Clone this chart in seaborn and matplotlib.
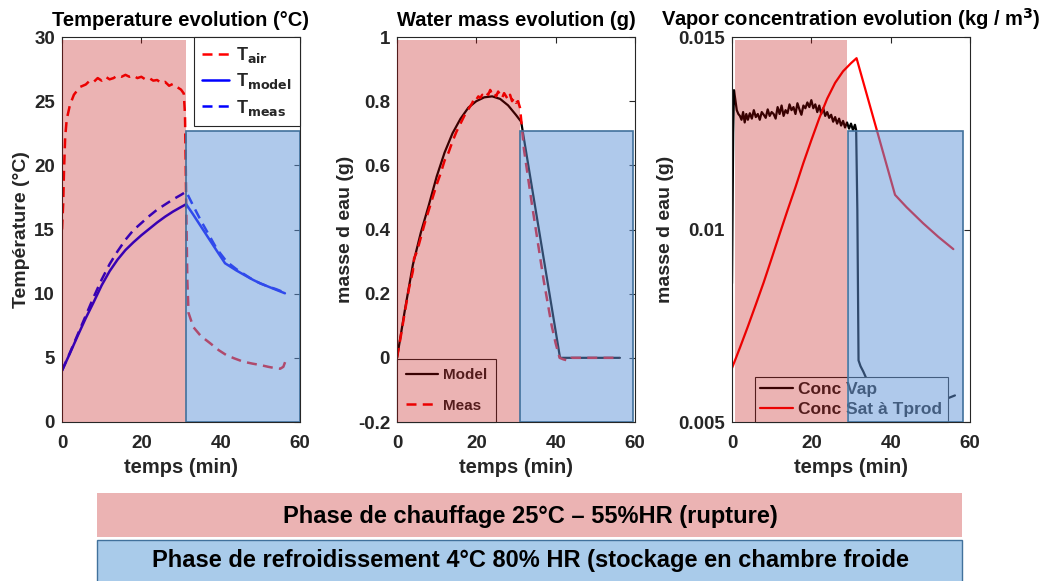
import numpy as np
import pandas as pd
import matplotlib
matplotlib.use("Agg")
import matplotlib.pyplot as plt
import seaborn as sns
from matplotlib.patches import Rectangle
from matplotlib.lines import Line2D


# ======================================================
# Data
# ======================================================
# -- Temperature panel --
t_air = [0, 0.3, 0.5, 0.8, 1.2, 2, 3, 4.5,
         6, 7, 8, 9, 10, 11, 12, 13, 14, 15, 16, 17, 18, 19, 20, 21, 22, 23, 24, 25, 26, 27, 28, 29, 30,
         30.7, 31.0, 31.2, 31.4, 31.6, 31.9,
         33.1, 35, 37.3, 39.5, 41.5, 43.5, 45.7, 48, 50, 52, 54, 55, 55.8, 56.4]
T_air = [15, 17, 19.5, 22.2, 23.6, 24.7, 25.5, 26.1,
         26.3, 26.6, 26.5, 26.8, 26.6, 26.9, 26.7, 26.8, 27.0, 26.9, 27.05, 26.9, 27.0, 26.8, 26.9, 26.7,
         26.8, 26.6, 26.65, 26.4, 26.5, 26.2, 26.35, 26.1, 25.9,
         25.6, 24.0, 20.0, 15.0, 11.0, 8.5,
         7.4, 6.7, 6.15, 5.6, 5.2, 4.95, 4.7, 4.55, 4.44, 4.3, 4.18, 4.15, 4.3, 4.8]

t_model = [0, 2, 4, 6, 8, 10, 12, 14, 16, 18, 20, 22, 24, 26, 28, 30, 31.3,
           33, 35, 37, 39, 41.1, 44, 46, 48.2, 50, 52, 54, 56.2]
T_model = [4.0, 5.35, 6.75, 8.1, 9.35, 10.65, 11.75, 12.65, 13.4, 14.0, 14.55, 15.05, 15.55, 16.0,
           16.4, 16.75, 16.97,
           16.2, 15.25, 14.3, 13.35, 12.37, 11.8, 11.45, 11.07, 10.8, 10.55, 10.3, 10.03]

t_meas = [0, 2, 4, 6, 8, 10, 12, 14, 16, 18, 20, 22, 24, 26, 28, 30, 31.3,
          33, 35, 37, 39, 41.5, 44, 46, 48, 50, 52, 54, 56]
T_meas = [4.0, 5.4, 6.85, 8.3, 9.75, 11.1, 12.3, 13.3, 14.2, 14.95, 15.5, 16.05, 16.55, 16.95,
          17.35, 17.7, 17.95,
          16.9, 15.7, 14.6, 13.5, 12.5, 11.9, 11.5, 11.1, 10.8, 10.55, 10.35, 10.1]

# -- Water mass panel --
t_mass_model = [0, 1, 2, 3, 4, 6, 8, 10, 12, 14, 16, 18, 20, 22, 24, 26, 28, 30, 31.3,
                33, 35, 37, 39, 41.1, 44, 48, 52, 56.2]
m_model = [0, 0.075, 0.15, 0.22, 0.29, 0.39, 0.475, 0.565, 0.64, 0.70, 0.745, 0.78, 0.80, 0.812,
           0.815, 0.807, 0.787, 0.757, 0.736,
           0.608, 0.458, 0.308, 0.158, 0.0, 0, 0, 0, 0]

t_mass_meas = [0, 1, 2, 3, 4, 4.3, 5, 6, 7, 8, 9, 10, 11, 12, 13, 14, 15, 16, 17, 18, 19,
               19.5, 20, 20.5, 21, 21.5, 22, 22.5, 23, 23.5, 24, 24.5, 25, 25.5, 26, 26.5, 27,
               27.5, 28, 28.5, 29, 29.5, 30, 30.5, 31,
               31.4,
               32, 33, 34, 35, 36, 37, 38, 39, 40, 41, 42, 43,
               43.6, 44, 46, 50, 54, 56.2]
m_meas = [0, 0.07, 0.145, 0.215, 0.27, 0.31, 0.33, 0.375, 0.42, 0.46, 0.50, 0.54, 0.575, 0.615,
          0.64, 0.675, 0.705, 0.73, 0.755, 0.775, 0.795,
          0.81, 0.805, 0.815, 0.81, 0.82, 0.815, 0.825, 0.82, 0.835, 0.82, 0.825, 0.815, 0.83,
          0.82, 0.81, 0.825, 0.815, 0.805, 0.82, 0.80, 0.81, 0.795, 0.80, 0.78,
          0.73,
          0.65, 0.565, 0.48, 0.40, 0.32, 0.24, 0.17, 0.10, 0.045, 0.0, -0.005, -0.008,
          -0.008, 0.0, 0, 0, 0, 0]

# -- Vapour concentration panel --
t_vap = [0, 0.3, 0.5, 0.8, 1.2, 1.6, 2.0, 2.4, 2.8, 3.2, 3.6,
         4.0, 4.5, 5.0, 5.5, 6.0, 6.5, 7.0, 7.5, 8.0, 8.5, 9.0, 9.5, 10.0, 10.5, 11.0, 11.5,
         12.0, 12.5, 13.0, 13.5, 14.0, 14.5, 15.0, 15.5, 16.0, 16.5, 17.0, 17.5, 18.0, 18.5,
         19.0, 19.5, 20.0, 20.5, 21.0, 21.5, 22.0, 22.5, 23.0, 23.5, 24.0, 24.5, 25.0, 25.5,
         26.0, 26.5, 27.0, 27.5, 28.0, 28.5, 29.0, 29.5, 30.0, 30.5, 31.0,
         31.3, 31.6, 31.9, 32.4, 33.1, 34, 36, 38, 42, 46, 50, 52, 54, 56.2]
c_vap = [0.0086, 0.0125, 0.01362, 0.0134, 0.0131, 0.01300, 0.01295, 0.01285, 0.01305, 0.01278, 0.0130,
         0.01285, 0.01302, 0.01288, 0.01310, 0.01292, 0.01300, 0.01285, 0.01305, 0.01298, 0.01290,
         0.01312, 0.01295, 0.01305, 0.01300, 0.01288, 0.01318, 0.01300, 0.01322, 0.01295, 0.01310,
         0.01302, 0.01325, 0.01310, 0.01318, 0.01300, 0.01328, 0.01312, 0.01298, 0.01322, 0.01315,
         0.01330, 0.01318, 0.01336, 0.01315, 0.01325, 0.01305, 0.01322, 0.01300, 0.01315, 0.01295,
         0.01305, 0.01290, 0.01298, 0.01280, 0.01292, 0.01275, 0.01288, 0.01270, 0.01282, 0.01265,
         0.01278, 0.01262, 0.01275, 0.01258, 0.01272,
         0.01258, 0.0105, 0.0066, 0.00645, 0.00631, 0.0061, 0.00585, 0.00572, 0.00562, 0.00557,
         0.00556, 0.00557, 0.0056, 0.00569]

t_sat = [0, 2, 4, 6, 8, 10, 12, 14, 16, 18, 20, 22, 24, 26, 28, 30, 31.4,
         41.1, 44, 48.2, 52, 55.8]
c_sat = [0.0064, 0.00693, 0.00748, 0.00805, 0.00863, 0.00925, 0.00988, 0.0105, 0.0111, 0.01173,
         0.01232, 0.01289, 0.01340, 0.01381, 0.01411, 0.01432, 0.01445,
         0.0109, 0.01058, 0.01016, 0.00981, 0.00949]

# phase rectangles per panel: (x0, x1, y0, y1) in data units
heat_zones = [(0, 31.3, 0, 29.8), (0, 31.0, -0.2, 0.99), (0.75, 29.0, 0.005, 0.01492)]
cool_zones = [(31.3, 60, 0, 22.7), (31.0, 59.5, -0.2, 0.707), (29.2, 58.2, 0.005, 0.01256)]

titles = ["Temperature evolution (°C)", "Water mass evolution (g)",
          "Vapor concentration evolution (kg / m$^3$)"]
ylabels = ["Température (°C)", "masse d eau (g)", "masse d eau (g)"]
banner_heat = "Phase de chauffage 25°C – 55%HR (rupture)"
banner_cool = "Phase de refroidissement 4°C 80% HR (stockage en chambre froide"


# ======================================================
# Style
# ======================================================
sns.set_theme(style="white")
plt.rcParams["font.family"] = ["Liberation Sans", "DejaVu Sans"]
plt.rcParams["font.weight"] = "bold"
plt.rcParams["axes.labelweight"] = "bold"
plt.rcParams["axes.titleweight"] = "bold"
plt.rcParams["mathtext.default"] = "bf"

PINK = (0.74, 0.02, 0.02)
BLUE = (0.38, 0.58, 0.85)
BLUE_EDGE = "#41719C"
AX_COL = "#262626"
DASH = (4, 2.5)

fig = plt.figure(figsize=(10.46, 5.81), dpi=100)
W, H = 1046, 581
lefts = [62, 397, 732]
axes = [fig.add_axes([l / W, 1 - 422 / H, 238 / W, 385 / H]) for l in lefts]


def style_axis(ax):
    for sp in ax.spines.values():
        sp.set_color(AX_COL)
        sp.set_linewidth(0.8)
        sp.set_visible(True)
    ax.tick_params(direction="in", length=4, width=0.8, top=True, right=True,
                   colors=AX_COL, labelsize=13.5, labelcolor=AX_COL, pad=5)
    ax.tick_params(axis="x", pad=9)
    for lab in ax.get_xticklabels() + ax.get_yticklabels():
        lab.set_fontweight("bold")
    ax.set_xlim(0, 60)
    ax.set_xticks([0, 20, 40, 60])
    ax.set_xlabel("temps (min)", fontsize=14.5, color=AX_COL, labelpad=5)


def add_zones(ax, heat, cool):
    x0, x1, y0, y1 = heat
    ax.add_patch(Rectangle((x0, y0), x1 - x0, y1 - y0, facecolor=PINK, alpha=0.3,
                           edgecolor="none", zorder=6))
    x0, x1, y0, y1 = cool
    ax.add_patch(Rectangle((x0, y0), x1 - x0, y1 - y0, facecolor=BLUE, alpha=0.5,
                           edgecolor="none", zorder=6))
    ax.add_patch(Rectangle((x0, y0), x1 - x0, y1 - y0, facecolor="none",
                           edgecolor=BLUE_EDGE, linewidth=1.2, zorder=7))


def box_legend(ax, handles, labels, **kw):
    leg = ax.legend(handles, labels, frameon=True, fancybox=False, edgecolor=AX_COL,
                    framealpha=1, borderaxespad=0, **kw)
    leg.get_frame().set_linewidth(0.8)
    leg.set_zorder(5)
    return leg


# ======================================================
# Panel 1 : temperature
# ======================================================
ax = axes[0]
sns.lineplot(x=t_air, y=T_air, ax=ax, color="red", linewidth=1.8, legend=False)
ax.lines[-1].set_dashes(DASH)
sns.lineplot(x=t_model, y=T_model, ax=ax, color="blue", linewidth=1.8, legend=False)
sns.lineplot(x=t_meas, y=T_meas, ax=ax, color="blue", linewidth=1.8, legend=False)
ax.lines[-1].set_dashes(DASH)
ax.set_ylim(0, 30)
ax.set_yticks(range(0, 31, 5))
style_axis(ax)
add_zones(ax, heat_zones[0], cool_zones[0])
h1 = [Line2D([], [], color="red", lw=1.8, dashes=DASH),
      Line2D([], [], color="blue", lw=1.8),
      Line2D([], [], color="blue", lw=1.8, dashes=DASH)]
box_legend(ax, h1, [r"T$_{air}$", r"T$_{model}$", r"T$_{meas}$"], loc="upper right",
           fontsize=13, handlelength=1.5, handletextpad=0.4, labelspacing=0.35,
           borderpad=0.45)

# ======================================================
# Panel 2 : water mass
# ======================================================
ax = axes[1]
sns.lineplot(x=t_mass_model, y=m_model, ax=ax, color="black", linewidth=1.6, legend=False)
sns.lineplot(x=t_mass_meas, y=m_meas, ax=ax, color="red", linewidth=1.8, legend=False)
ax.lines[-1].set_dashes(DASH)
ax.set_ylim(-0.2, 1.0)
ax.set_yticks([-0.2, 0, 0.2, 0.4, 0.6, 0.8, 1.0])
ax.set_yticklabels(["-0.2", "0", "0.2", "0.4", "0.6", "0.8", "1"])
style_axis(ax)
add_zones(ax, heat_zones[1], cool_zones[1])
h2 = [Line2D([], [], color="black", lw=1.6),
      Line2D([], [], color="red", lw=1.8, dashes=DASH)]
box_legend(ax, h2, ["Model", "Meas"], loc="lower left", fontsize=11, handlelength=2.1,
           handletextpad=0.3, labelspacing=1.1, borderpad=0.6)

# ======================================================
# Panel 3 : vapour concentration
# ======================================================
ax = axes[2]
sns.lineplot(x=t_vap, y=c_vap, ax=ax, color="black", linewidth=1.6, legend=False)
sns.lineplot(x=t_sat, y=c_sat, ax=ax, color="red", linewidth=1.6, legend=False)
ax.set_ylim(0.005, 0.015)
ax.set_yticks([0.005, 0.01, 0.015])
ax.set_yticklabels(["0.005", "0.01", "0.015"])
style_axis(ax)
add_zones(ax, heat_zones[2], cool_zones[2])
h3 = [Line2D([], [], color="black", lw=1.6), Line2D([], [], color="red", lw=1.6)]
box_legend(ax, h3, ["Conc Vap", "Conc Sat à Tprod"], loc="lower left",
           bbox_to_anchor=(0.097, 0.0), fontsize=12.5, handlelength=1.9,
           labelspacing=0.25, borderpad=0.3, handletextpad=0.3)

for ax, title, yl in zip(axes, titles, ylabels):
    ax.set_title(title, fontsize=14.5, color="black", pad=8)
    ax.set_ylabel(yl, fontsize=14, color=AX_COL, labelpad=3)

# ======================================================
# Phase banners
# ======================================================
fig.patches.append(Rectangle((97 / W, 1 - 537 / H), 865 / W, 44 / H, transform=fig.transFigure,
                             facecolor="#EBB3B3", edgecolor="none", zorder=1))
fig.patches.append(Rectangle((97 / W, 1 - 585 / H), 865 / W, 45 / H, transform=fig.transFigure,
                             facecolor="#A9CBEA", edgecolor=BLUE_EDGE, linewidth=1.0, zorder=1))
banner_font = ["Liberation Sans Narrow", "Liberation Sans", "DejaVu Sans"]
fig.text(530 / W, 1 - 516 / H, banner_heat, ha="center", va="center", fontsize=17,
         family=banner_font, weight="bold", color="black")
fig.text(530 / W, 1 - 561 / H, banner_cool, ha="center", va="center", fontsize=17,
         family=banner_font, weight="bold", color="black")

fig.savefig("out.png", dpi=100)
plt.close(fig)
